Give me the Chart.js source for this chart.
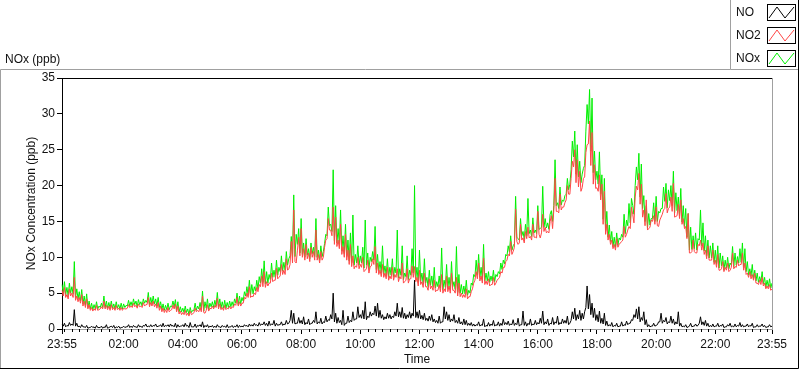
<!DOCTYPE html>
<html>
<head>
<meta charset="utf-8">
<script src="https://cdn.jsdelivr.net/npm/chart.js@4/dist/chart.umd.min.js"></script>
<style>
html, body { margin: 0; padding: 0; background: #fff; }
</style>
</head>
<body>
<canvas id="noxChart" width="800" height="369"></canvas>
<script>
// series names + colours
const seriesNames = ['NO', 'NO2', 'NOx'];
const seriesColors = ['#000000', '#ff4646', '#00f000'];

// axis ticks
const yTicks = [0, 5, 10, 15, 20, 25, 30, 35];
const xTickLabels = ['23:55', '02:00', '04:00', '06:00', '08:00', '10:00', '12:00',
    '14:00', '16:00', '18:00', '20:00', '22:00', '23:55'];

// band tops, every 5 minutes 23:55 -> 23:55 (one value, then 12 per hour)
const noValues = [
    0.6,
    0.8, 0.5, 0.9, 0.7, 2.7, 0.8, 0.4, 0.6, 0.3, 0.5, 0.2, 0.4,   // 00
    0.3, 0.5, 0.2, 0.4, 0.3, 0.6, 0.2, 0.4, 0.5, 0.3, 0.4, 0.2,   // 01
    0.4, 0.3, 0.6, 0.4, 0.5, 0.3, 0.6, 0.4, 0.5, 0.7, 0.4, 0.6,   // 02
    0.5, 0.7, 0.4, 0.6, 0.8, 0.5, 0.6, 0.7, 0.5, 0.8, 0.6, 0.4,   // 03
    0.6, 0.8, 0.5, 0.9, 0.3, 0.7, 0.5, 0.6, 1.0, 0.5, 0.6, 0.4,   // 04
    0.5, 0.4, 0.6, 0.3, 0.5, 0.4, 0.6, 0.3, 0.5, 0.4, 0.6, 0.5,   // 05
    0.4, 0.6, 0.5, 0.7, 0.6, 0.8, 0.6, 0.9, 0.7, 1.0, 0.8, 1.1,   // 06
    0.7, 1.2, 0.8, 0.6, 1.0, 0.7, 1.2, 0.8, 2.6, 2.2, 0.8, 1.6,   // 07
    1.2, 1.7, 0.9, 1.4, 0.8, 1.2, 2.4, 1.0, 1.5, 1.0, 1.8, 1.3,   // 08
    2.0, 5.0, 2.2, 1.6, 1.2, 2.6, 0.8, 1.8, 1.2, 2.4, 1.4, 3.1,   // 09
    2.0, 2.6, 3.8, 1.8, 2.4, 2.2, 3.2, 3.6, 2.6, 2.0, 1.7, 2.2,   // 10
    2.0, 1.8, 2.4, 3.6, 2.4, 3.0, 2.2, 2.0, 2.4, 2.2, 6.8, 2.4,   // 11
    2.6, 1.9, 2.2, 1.5, 1.8, 2.0, 1.4, 1.2, 1.8, 1.0, 3.1, 2.4,   // 12
    2.0, 1.4, 2.0, 1.2, 1.6, 1.0, 1.4, 1.2, 0.8, 0.9, 0.7, 0.6,   // 13
    1.0, 0.6, 1.4, 0.5, 0.9, 0.7, 1.2, 0.6, 1.0, 0.8, 1.4, 0.9,   // 14
    1.1, 0.7, 1.3, 0.8, 1.5, 0.6, 2.5, 1.0, 0.8, 1.4, 0.7, 1.2,   // 15
    0.9, 1.5, 2.5, 1.0, 1.4, 0.8, 1.6, 1.0, 1.8, 0.9, 1.4, 1.2,   // 16
    1.8, 0.8, 2.4, 2.9, 2.0, 2.6, 2.2, 2.4, 6.0, 4.8, 3.6, 2.9,   // 17
    2.0, 2.5, 1.5, 2.2, 1.1, 0.6, 0.9, 0.5, 0.8, 0.4, 1.0, 0.6,   // 18
    1.1, 0.8, 1.3, 2.0, 2.8, 3.1, 1.6, 2.4, 1.3, 0.6, 0.4, 0.8,   // 19
    0.5, 1.0, 2.2, 1.2, 1.6, 1.0, 1.8, 1.4, 1.0, 2.4, 0.8, 0.4,   // 20
    0.6, 0.3, 0.8, 0.4, 0.7, 0.5, 1.7, 1.0, 1.2, 0.8, 0.5, 0.7,   // 21
    0.4, 0.8, 0.5, 0.7, 0.3, 0.6, 0.8, 0.4, 0.7, 0.5, 0.9, 0.6,   // 22
    0.4, 0.7, 0.5, 0.8, 0.3, 0.6, 0.4, 0.7, 0.5, 0.3, 0.6, 0.4    // 23
];
// band bottoms, read between each pair of the tops above (12 per row)
const noLows = [
    0.4, 0.3, 0.4, 0.5, 0.5, 0.4, 0.3, 0.2, 0.3, 0.2, 0.1, 0.2,
    0.2, 0.1, 0.2, 0.2, 0.1, 0.2, 0.1, 0.3, 0.2, 0.1, 0.2, 0.1,
    0.2, 0.2, 0.3, 0.2, 0.2, 0.3, 0.2, 0.3, 0.2, 0.4, 0.3, 0.3,
    0.3, 0.4, 0.3, 0.4, 0.3, 0.3, 0.4, 0.3, 0.4, 0.3, 0.2, 0.3,
    0.4, 0.3, 0.4, 0.2, 0.3, 0.3, 0.2, 0.4, 0.3, 0.2, 0.3, 0.2,
    0.3, 0.2, 0.2, 0.3, 0.2, 0.3, 0.2, 0.2, 0.3, 0.2, 0.3, 0.2,
    0.3, 0.3, 0.4, 0.3, 0.4, 0.4, 0.5, 0.4, 0.5, 0.6, 0.5, 0.4,
    0.5, 0.6, 0.4, 0.5, 0.6, 0.5, 0.6, 0.7, 1.2, 0.8, 0.7, 0.8,
    0.8, 0.7, 0.6, 0.7, 0.6, 0.8, 0.9, 0.7, 0.8, 0.7, 0.9, 1.0,
    1.2, 1.4, 1.0, 0.8, 0.9, 0.6, 0.5, 0.8, 0.9, 1.0, 1.2, 1.4,
    1.6, 1.5, 1.4, 1.3, 1.6, 1.8, 2.0, 1.8, 1.6, 1.5, 1.3, 1.4,
    1.5, 1.4, 1.6, 1.8, 1.7, 1.6, 1.5, 1.4, 1.6, 1.5, 1.8, 1.6,
    1.5, 1.4, 1.3, 1.2, 1.1, 1.2, 1.0, 0.9, 0.8, 0.8, 1.0, 1.4,
    1.2, 1.0, 1.1, 0.9, 0.8, 0.7, 0.6, 0.6, 0.5, 0.5, 0.4, 0.4,
    0.5, 0.4, 0.5, 0.3, 0.4, 0.4, 0.5, 0.4, 0.5, 0.4, 0.5, 0.6,
    0.6, 0.5, 0.6, 0.5, 0.6, 0.4, 0.6, 0.5, 0.4, 0.6, 0.5, 0.6,
    0.6, 0.7, 0.8, 0.6, 0.7, 0.5, 0.7, 0.6, 0.8, 0.6, 0.7, 0.8,
    0.8, 0.6, 1.2, 1.4, 1.2, 1.4, 1.2, 1.4, 3.0, 2.8, 2.0, 1.6,
    1.2, 1.0, 0.8, 0.7, 0.5, 0.4, 0.4, 0.3, 0.4, 0.3, 0.4, 0.4,
    0.5, 0.6, 0.8, 1.2, 1.6, 1.4, 1.0, 1.2, 0.6, 0.3, 0.3, 0.4,
    0.4, 0.6, 1.0, 0.8, 1.0, 0.7, 0.9, 0.8, 0.6, 0.7, 0.4, 0.3,
    0.3, 0.2, 0.4, 0.3, 0.4, 0.4, 0.8, 0.6, 0.5, 0.4, 0.3, 0.3,
    0.3, 0.4, 0.3, 0.4, 0.2, 0.3, 0.4, 0.3, 0.3, 0.3, 0.4, 0.3,
    0.3, 0.4, 0.3, 0.4, 0.2, 0.3, 0.3, 0.4, 0.3, 0.2, 0.3, 0.3
];

const no2Values = [
    5.4,
    5.8, 4.8, 5.6, 5.0, 7.2, 4.6, 4.4, 4.8, 3.9, 4.2, 3.4, 3.0,   // 00
    2.8, 3.3, 2.7, 3.1, 3.9, 3.3, 3.2, 3.4, 3.0, 3.3, 2.9, 3.0,   // 01
    2.9, 2.8, 3.4, 3.2, 3.6, 3.3, 3.5, 3.2, 3.7, 3.4, 4.4, 3.7,   // 02
    3.9, 3.5, 3.7, 3.2, 2.9, 2.7, 3.0, 2.6, 3.3, 3.5, 3.2, 2.5,   // 03
    2.3, 2.6, 2.2, 2.5, 2.1, 2.9, 2.6, 3.0, 4.6, 2.2, 3.4, 2.9,   // 04
    3.2, 3.3, 4.3, 3.5, 3.0, 3.3, 2.9, 3.2, 3.1, 3.5, 4.4, 3.8,   // 05
    3.6, 4.4, 5.0, 5.9, 4.6, 5.0, 5.8, 6.2, 7.4, 8.0, 6.6, 6.4,   // 06
    7.8, 6.8, 8.5, 7.2, 9.0, 8.2, 9.8, 8.4, 12.2, 16.6, 9.2, 12.8,   // 07
    14.0, 11.2, 11.8, 10.6, 11.4, 10.8, 13.8, 10.4, 10.8, 10.0, 12.4, 15.4,   // 08
    13.8, 17.0, 15.6, 12.4, 14.6, 11.5, 13.2, 11.0, 11.8, 10.2, 8.8, 10.0,   // 09
    9.0, 10.0, 8.2, 9.6, 8.7, 9.8, 11.5, 9.2, 8.2, 9.0, 7.8, 8.6,   // 10
    7.4, 8.6, 7.6, 8.4, 7.3, 9.2, 6.6, 8.4, 7.0, 8.8, 8.7, 7.2,   // 11
    8.2, 6.6, 7.8, 5.9, 7.0, 6.0, 6.8, 5.4, 6.2, 7.6, 5.6, 7.4,   // 12
    6.0, 7.8, 5.4, 7.2, 6.4, 5.0, 4.8, 5.6, 4.5, 5.2, 6.4, 8.0,   // 13
    9.2, 7.4, 9.9, 6.7, 7.0, 6.2, 7.2, 6.4, 7.0, 8.0, 8.6, 9.4,   // 14
    10.4, 12.2, 10.8, 16.7, 11.8, 14.6, 12.7, 13.6, 14.2, 12.9, 14.6, 12.8,   // 15
    16.4, 12.7, 16.0, 14.2, 13.6, 15.0, 14.0, 21.0, 16.4, 18.8, 17.0, 17.6,   // 16
    20.0, 18.8, 23.4, 25.0, 23.6, 22.0, 19.7, 21.2, 25.7, 29.0, 27.4, 22.9,   // 17
    19.7, 21.5, 20.2, 19.2, 14.6, 13.2, 12.4, 11.8, 12.6, 11.8, 12.2, 14.3,   // 18
    13.2, 14.3, 17.0, 14.8, 19.9, 21.7, 20.2, 16.6, 18.0, 14.0, 15.2, 15.8,   // 19
    17.0, 14.3, 15.6, 16.6, 18.9, 16.8, 18.4, 20.3, 15.7, 17.4, 18.0, 15.4,   // 20
    14.3, 16.1, 10.6, 12.4, 10.6, 11.8, 12.4, 12.0, 11.0, 11.6, 9.6, 11.0,   // 21
    9.6, 10.4, 8.2, 9.4, 8.6, 9.2, 8.2, 10.6, 8.7, 9.6, 9.0, 10.6,   // 22
    9.2, 7.8, 8.0, 7.6, 7.8, 6.4, 6.8, 7.2, 6.4, 6.0, 6.2, 5.6    // 23
];
const no2Lows = [
    4.6, 4.4, 4.2, 4.6, 4.4, 4.0, 3.8, 3.6, 3.2, 3.0, 2.8, 2.6,
    2.5, 2.6, 2.6, 2.8, 2.8, 2.8, 2.7, 2.6, 2.7, 2.6, 2.7, 2.6,
    2.6, 2.8, 2.9, 3.0, 3.0, 3.1, 2.9, 3.1, 3.0, 3.2, 3.4, 3.1,
    3.2, 3.1, 2.9, 2.6, 2.4, 2.3, 2.3, 2.4, 2.7, 2.8, 2.4, 2.1,
    2.0, 2.0, 1.9, 1.8, 2.0, 2.3, 2.4, 2.4, 2.4, 2.3, 2.6, 2.5,
    2.8, 2.8, 3.0, 2.8, 2.7, 2.6, 2.7, 2.8, 2.8, 3.0, 3.3, 3.2,
    3.2, 3.6, 4.2, 4.4, 4.4, 4.5, 4.8, 5.2, 5.9, 5.9, 5.8, 6.0,
    6.4, 6.6, 6.8, 7.0, 7.4, 7.6, 7.6, 8.2, 9.0, 9.2, 9.4, 11.0,
    10.2, 10.0, 9.6, 9.8, 9.4, 10.0, 9.6, 9.6, 9.2, 9.6, 11.4, 12.6,
    13.8, 13.0, 11.8, 11.5, 11.2, 10.4, 10.0, 9.6, 9.0, 8.7, 8.4, 8.6,
    8.4, 8.6, 8.0, 8.4, 7.8, 8.8, 9.0, 7.8, 7.6, 7.3, 7.2, 7.0,
    6.8, 7.0, 6.8, 7.2, 6.6, 7.0, 6.4, 6.8, 6.4, 7.0, 7.2, 6.6,
    6.0, 6.2, 5.8, 5.9, 5.4, 5.6, 5.4, 5.2, 5.4, 5.2, 5.0, 5.2,
    5.2, 5.0, 5.4, 5.0, 4.6, 4.5, 4.4, 4.4, 4.2, 4.5, 5.6, 6.8,
    7.0, 6.7, 6.4, 6.2, 6.2, 6.0, 6.2, 6.1, 6.8, 7.2, 7.8, 8.6,
    9.6, 10.2, 10.4, 11.4, 12.2, 12.0, 12.4, 12.0, 12.6, 12.7, 12.4, 12.8,
    12.7, 13.2, 13.4, 13.6, 13.4, 13.4, 15.8, 16.6, 16.4, 16.2, 16.6, 17.0,
    18.0, 18.8, 21.0, 22.6, 20.4, 19.8, 19.2, 21.0, 24.6, 25.8, 22.8, 20.2,
    19.6, 19.2, 18.0, 14.6, 13.2, 12.4, 11.8, 11.2, 11.0, 11.4, 12.0, 12.4,
    12.8, 13.8, 14.0, 16.0, 18.4, 19.4, 17.4, 15.6, 14.4, 13.8, 14.2, 15.0,
    14.6, 14.4, 15.2, 16.0, 16.8, 16.2, 17.0, 16.4, 15.6, 15.8, 15.4, 14.6,
    14.0, 12.6, 10.6, 10.8, 10.8, 10.6, 11.6, 11.0, 10.4, 9.8, 9.6, 9.6,
    9.0, 8.6, 8.2, 8.4, 8.0, 8.2, 8.0, 8.6, 8.4, 8.6, 8.8, 9.0,
    8.2, 7.6, 7.2, 7.0, 6.8, 6.4, 6.2, 6.2, 6.0, 5.6, 5.6, 5.4
];

const noxValues = [
    6.2,
    6.6, 5.8, 6.4, 5.9, 9.4, 5.6, 5.2, 5.5, 4.6, 4.9, 3.9, 3.6,   // 00
    3.4, 3.8, 3.2, 3.6, 4.6, 3.9, 3.7, 3.9, 3.5, 3.8, 3.4, 3.6,   // 01
    3.5, 3.3, 4.0, 3.8, 4.2, 3.9, 4.1, 3.8, 4.2, 4.0, 5.1, 4.4,   // 02
    4.6, 4.2, 4.4, 3.8, 3.5, 3.3, 3.6, 3.2, 3.9, 4.1, 3.8, 3.1,   // 03
    2.9, 3.2, 2.8, 3.0, 2.6, 3.6, 3.2, 3.7, 5.3, 3.8, 4.2, 3.6,   // 04
    3.8, 4.0, 5.1, 4.2, 3.8, 4.0, 3.7, 3.9, 3.8, 4.2, 5.0, 4.6,   // 05
    4.4, 5.2, 5.9, 6.8, 6.2, 5.9, 6.8, 7.3, 8.4, 9.5, 8.0, 7.6,   // 06
    9.2, 8.2, 9.6, 8.6, 10.2, 9.3, 10.8, 9.8, 12.9, 18.7, 13.2, 14.0,   // 07
    15.4, 12.0, 12.6, 11.2, 12.0, 11.4, 15.4, 11.0, 11.6, 10.8, 13.2, 17.0,   // 08
    14.6, 22.2, 17.2, 14.0, 16.6, 13.0, 14.6, 12.4, 13.4, 15.9, 10.4, 11.6,   // 09
    10.2, 11.4, 15.2, 10.6, 10.0, 10.8, 14.3, 10.4, 9.4, 11.6, 8.8, 9.8,   // 10
    8.6, 9.8, 8.6, 13.8, 8.4, 11.6, 7.8, 10.2, 8.2, 11.2, 20.0, 8.6,   // 11
    11.0, 7.8, 9.8, 7.2, 8.2, 7.4, 8.6, 6.6, 7.4, 11.3, 6.8, 9.0,   // 12
    7.2, 9.4, 6.6, 11.5, 7.6, 6.2, 6.0, 6.8, 5.4, 6.4, 7.6, 9.6,   // 13
    10.4, 8.6, 11.8, 7.8, 8.0, 7.4, 8.2, 7.6, 8.0, 9.2, 9.6, 10.4,   // 14
    11.6, 13.0, 11.6, 18.5, 12.6, 15.4, 13.6, 14.6, 18.2, 13.8, 15.5, 13.8,   // 15
    17.2, 14.0, 19.9, 15.4, 14.8, 16.0, 15.0, 23.6, 17.6, 19.8, 18.0, 18.6,   // 16
    21.0, 20.2, 26.2, 27.6, 25.7, 23.4, 21.6, 22.8, 31.3, 33.4, 32.2, 24.8,   // 17
    22.0, 24.7, 21.5, 21.0, 16.4, 14.5, 13.6, 12.8, 13.4, 12.7, 13.2, 16.0,   // 18
    15.2, 17.5, 18.2, 16.0, 22.6, 24.5, 23.0, 18.6, 17.2, 16.1, 15.4, 17.6,   // 19
    18.5, 16.4, 16.8, 19.8, 20.3, 19.4, 20.0, 22.0, 19.0, 18.4, 19.6, 17.2,   // 20
    16.8, 16.1, 14.2, 13.0, 13.4, 12.6, 16.6, 14.8, 13.0, 12.4, 11.6, 12.0,   // 21
    11.0, 11.6, 10.6, 10.2, 9.6, 10.0, 9.2, 11.5, 10.6, 10.1, 11.2, 12.0,   // 22
    11.2, 9.4, 8.4, 9.0, 8.2, 7.8, 7.3, 8.0, 7.2, 6.8, 7.0, 6.4    // 23
];
const noxLows = [
    5.0, 4.8, 4.6, 5.0, 4.9, 4.4, 4.2, 3.9, 3.5, 3.3, 3.0, 2.8,
    2.7, 2.8, 2.8, 3.0, 3.0, 3.0, 2.9, 2.9, 2.9, 2.8, 2.9, 2.8,
    2.8, 3.0, 3.2, 3.2, 3.2, 3.4, 3.1, 3.4, 3.2, 3.6, 3.7, 3.4,
    3.5, 3.5, 3.2, 3.0, 2.7, 2.6, 2.7, 2.7, 3.1, 3.1, 2.6, 2.4,
    2.4, 2.3, 2.3, 2.0, 2.3, 2.6, 2.6, 2.8, 2.7, 2.5, 2.9, 2.7,
    3.1, 3.0, 3.2, 3.1, 2.9, 2.9, 2.9, 3.0, 3.1, 3.2, 3.6, 3.4,
    3.5, 3.9, 4.6, 4.7, 4.8, 4.9, 5.3, 5.6, 6.4, 6.5, 6.3, 6.4,
    6.9, 7.2, 7.2, 7.5, 8.0, 8.1, 8.2, 8.9, 10.2, 10.0, 10.1, 11.8,
    10.6, 10.4, 10.0, 10.3, 9.8, 10.5, 10.1, 10.0, 9.6, 10.1, 11.9, 13.0,
    14.4, 13.6, 12.3, 12.0, 11.8, 10.9, 10.5, 10.1, 9.5, 9.2, 8.9, 9.2,
    8.9, 9.2, 8.5, 8.9, 8.3, 9.4, 9.6, 8.3, 8.1, 7.8, 7.7, 7.5,
    7.3, 7.5, 7.3, 7.8, 7.1, 7.5, 6.9, 7.3, 6.9, 7.5, 7.8, 7.1,
    6.5, 6.7, 6.3, 6.4, 5.9, 6.1, 5.9, 5.7, 5.9, 5.7, 5.5, 5.8,
    5.7, 5.5, 5.9, 5.5, 5.1, 5.0, 4.9, 4.9, 4.7, 5.0, 6.1, 7.3,
    7.5, 7.2, 6.9, 6.7, 6.7, 6.5, 6.7, 6.6, 7.3, 7.7, 8.3, 9.1,
    10.2, 10.7, 11.0, 11.9, 12.8, 12.4, 13.0, 12.5, 13.0, 13.3, 12.9, 13.4,
    13.3, 13.9, 14.2, 14.2, 14.1, 13.9, 16.5, 17.2, 17.2, 16.8, 17.3, 17.8,
    18.8, 19.4, 22.2, 24.0, 21.6, 21.2, 20.4, 22.4, 27.6, 28.6, 24.8, 21.8,
    20.8, 20.2, 18.8, 15.3, 13.7, 12.8, 12.2, 11.5, 11.4, 11.7, 12.4, 12.8,
    13.3, 14.4, 14.8, 17.2, 20.0, 20.8, 18.4, 16.8, 15.0, 14.1, 14.5, 15.4,
    15.0, 15.0, 16.2, 16.8, 17.8, 16.9, 17.9, 17.2, 16.2, 16.5, 15.8, 14.9,
    14.3, 12.8, 11.0, 11.1, 11.2, 11.0, 12.4, 11.6, 10.9, 10.2, 9.9, 9.9,
    9.3, 9.0, 8.5, 8.8, 8.2, 8.5, 8.4, 8.9, 8.7, 8.9, 9.2, 9.3,
    8.5, 8.0, 7.5, 7.4, 7.0, 6.7, 6.5, 6.6, 6.3, 5.8, 5.9, 5.7
];

// tops and bottoms alternate, 2.5 min apart
function interleave(tops, lows) {
    const out = [];
    tops.forEach((v, i) => {
        out.push(v);
        if (i < lows.length) out.push(lows[i]);
    });
    return out;
}
const seriesData = [
    interleave(noValues, noLows),
    interleave(no2Values, no2Lows),
    interleave(noxValues, noxLows)
];

// time categories, 150 s apart starting 23:55
const times = [];
for (let i = 0; i < seriesData[0].length; i++) {
    const s = (23 * 3600 + 55 * 60 + i * 150) % 86400;
    const hh = String(Math.floor(s / 3600)).padStart(2, '0');
    const mm = String(Math.floor(s / 60) % 60).padStart(2, '0');
    times.push(hh + ':' + mm + (s % 60 ? ':30' : ''));
}
const majorIdx = xTickLabels.map((t, i) =>
    i === 0 ? 0 : (i === xTickLabels.length - 1 ? times.length - 1 : times.indexOf(t)));
// minor ticks every 15 min from 00:00
const minorIdx = [];
for (let i = times.indexOf('00:00'); i < times.length - 1; i += 6) {
    if (!majorIdx.includes(i)) minorIdx.push(i);
}

const FONT = 'Liberation Sans, Arial, sans-serif';
const textColor = '#111';

// LabVIEW-ish frame, minor ticks and the legend box
const framePlugin = {
    id: 'frame',
    afterDraw(chart) {
        const ctx = chart.ctx;
        const area = chart.chartArea;
        const xs = chart.scales.x;
        ctx.save();
        ctx.lineWidth = 1;

        // minor x ticks
        ctx.strokeStyle = '#000';
        ctx.beginPath();
        minorIdx.forEach(i => {
            const px = Math.round(xs.getPixelForValue(i)) + 0.5;
            ctx.moveTo(px, area.bottom);
            ctx.lineTo(px, area.bottom + 3);
        });
        ctx.stroke();

        // plot top (black) and right (gray) edges
        ctx.beginPath();
        ctx.moveTo(area.left, Math.round(area.top) + 0.5);
        ctx.lineTo(area.right, Math.round(area.top) + 0.5);
        ctx.stroke();
        ctx.strokeStyle = '#a0a0a0';
        ctx.beginPath();
        ctx.moveTo(Math.round(area.right) + 0.5, area.top);
        ctx.lineTo(Math.round(area.right) + 0.5, area.bottom);
        ctx.stroke();

        // outer frame
        ctx.strokeStyle = '#a0a0a0';
        ctx.beginPath();
        ctx.moveTo(0.5, 368);
        ctx.lineTo(0.5, 69.5);
        ctx.lineTo(730.5, 69.5);
        ctx.lineTo(730.5, 0);
        ctx.moveTo(730.5, 69.5);
        ctx.lineTo(798, 69.5);
        ctx.stroke();
        ctx.strokeStyle = '#000';
        ctx.beginPath();
        ctx.moveTo(0, 368.5);
        ctx.lineTo(798.5, 368.5);
        ctx.lineTo(798.5, 0);
        ctx.stroke();

        // graph caption
        ctx.fillStyle = textColor;
        ctx.font = '12px ' + FONT;
        ctx.textBaseline = 'middle';
        ctx.textAlign = 'left';
        ctx.fillText('NOx (ppb)', 5, 60);

        // legend
        const rowY = [4, 27, 50];
        seriesNames.forEach((name, k) => {
            const top = rowY[k];
            ctx.fillStyle = textColor;
            ctx.fillText(name, 736, top + 9);
            ctx.strokeStyle = '#000';
            ctx.strokeRect(767.5, top + 0.5, 28, 16);
            ctx.strokeStyle = seriesColors[k];
            ctx.beginPath();
            ctx.moveTo(769, top + 14);
            ctx.lineTo(777, top + 3);
            ctx.lineTo(785, top + 14);
            ctx.lineTo(794, top + 3);
            ctx.stroke();
        });
        ctx.restore();
    }
};

new Chart(document.getElementById('noxChart').getContext('2d'), {
    type: 'line',
    data: {
        labels: times,
        datasets: seriesNames.map((name, k) => ({
            label: name,
            data: seriesData[k],
            borderColor: seriesColors[k],
            borderWidth: 1,
            pointRadius: 0,
            tension: 0
        }))
    },
    options: {
        responsive: false,
        animation: false,
        devicePixelRatio: 1,
        layout: { padding: { top: 78, right: 28, left: 0, bottom: 0 } },
        plugins: { legend: { display: false }, tooltip: { enabled: false } },
        scales: {
            x: {
                type: 'category',
                offset: false,
                afterBuildTicks: s => { s.ticks = majorIdx.map(v => ({ value: v })); },
                afterFit: s => { s.height = 40; },
                ticks: {
                    autoSkip: false, maxRotation: 0, minRotation: 0, padding: 3,
                    color: textColor, font: { family: FONT, size: 12 },
                    callback: v => times[v]
                },
                grid: { drawOnChartArea: false, tickLength: 5, color: '#000' },
                border: { color: '#a0a0a0' },
                title: {
                    display: true, text: 'Time', color: textColor,
                    font: { family: FONT, size: 12 }, padding: { top: 0, bottom: 2 }
                }
            },
            y: {
                min: 0,
                max: 35,
                afterBuildTicks: s => { s.ticks = yTicks.map(v => ({ value: v })); },
                afterFit: s => { s.width = 62; },
                ticks: { padding: 2, color: textColor, font: { family: FONT, size: 12 } },
                grid: { drawOnChartArea: false, tickLength: 5, color: '#000' },
                border: { color: '#000' },
                title: {
                    display: true, text: 'NOx Concentration (ppb)', color: textColor,
                    font: { family: FONT, size: 12 }, padding: { top: 24, bottom: 0 }
                }
            }
        }
    },
    plugins: [framePlugin]
});
</script>
</body>
</html>
